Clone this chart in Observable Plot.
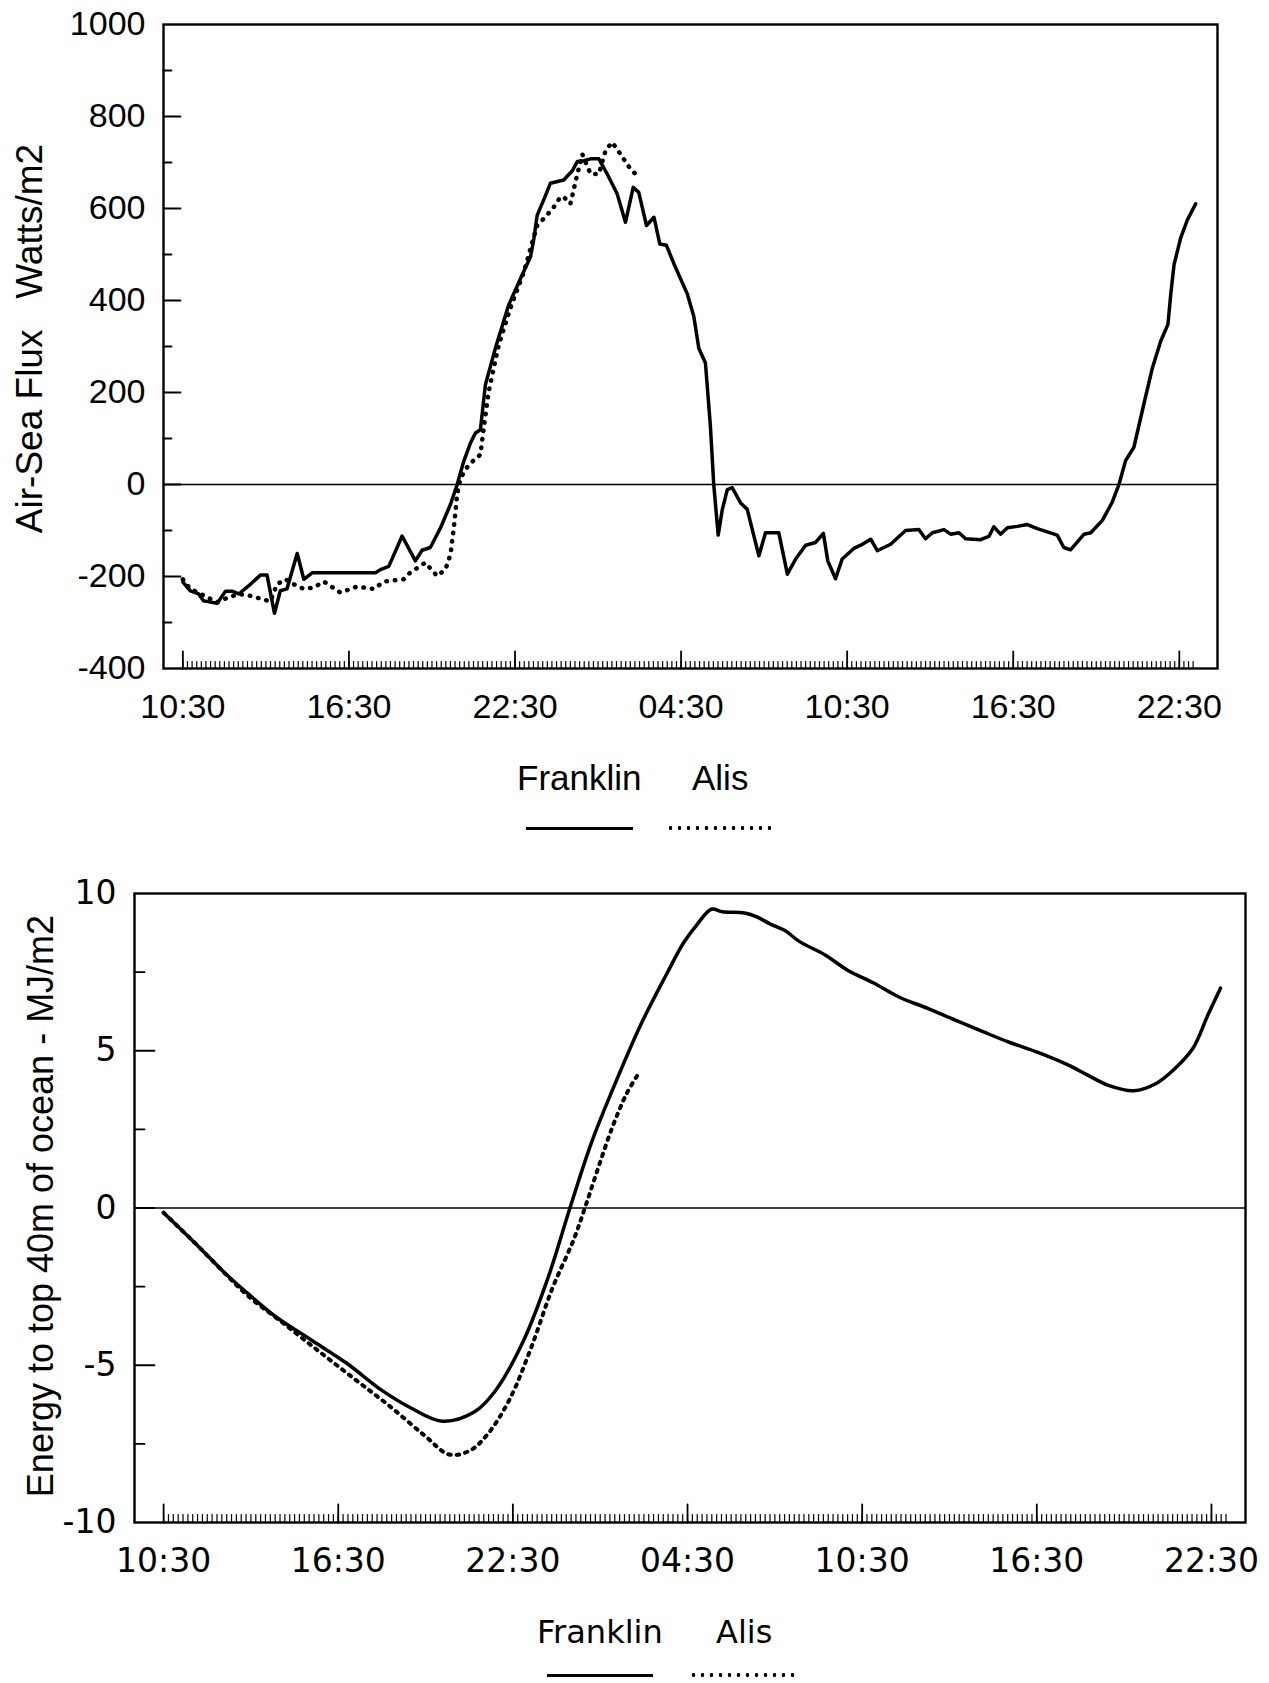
<!DOCTYPE html>
<html>
<head>
<meta charset="utf-8">
<script src="https://cdn.jsdelivr.net/npm/d3@7"></script>
<script src="https://cdn.jsdelivr.net/npm/@observablehq/plot@0.6"></script>
<style>
  html, body { margin: 0; padding: 0; background: #fff; }
  body { width: 1269px; height: 1683px; position: relative; overflow: hidden; }
  .abs { position: absolute; }
  .leg { position: absolute; line-height: 1; color: #000; white-space: nowrap; }
  .solid { position: absolute; height: 0; border-top: 3.5px solid #000; }
  .dotted { position: absolute; height: 4px;
    background-image: radial-gradient(circle, #000 1.7px, transparent 2.1px);
    background-size: 9px 4px; background-repeat: repeat-x; }
</style>
</head>
<body>
<div id="topChart" class="abs" style="left:0;top:0"></div>
<div id="botChart" class="abs" style="left:0;top:860px"></div>

<div class="leg" id="leg1a" style="left:517px;top:758px;font:35px 'Liberation Sans',Arial,sans-serif"></div>
<div class="leg" id="leg1b" style="left:692px;top:758px;font:35px 'Liberation Sans',Arial,sans-serif"></div>
<div class="solid" style="left:526px;top:827px;width:107px"></div>
<div class="dotted" style="left:666px;top:826px;width:106px"></div>

<div class="leg" id="leg2a" style="left:537px;top:1613px;font:32px 'DejaVu Sans',sans-serif"></div>
<div class="leg" id="leg2b" style="left:716px;top:1613px;font:32px 'DejaVu Sans',sans-serif"></div>
<div class="solid" style="left:547px;top:1674px;width:106px"></div>
<div class="dotted" style="left:689px;top:1673px;width:106px"></div>

<script>
// ---------- tick labels / categories ----------
const seriesNames = ["Franklin", "Alis"];
const timeLabels = ["10:30", "16:30", "22:30", "04:30", "10:30", "16:30", "22:30"];
const timeTickHours = [0, 6, 12, 18, 24, 30, 36];   // hours after 10:30 on day 1
const fluxTicks = [-400, -200, 0, 200, 400, 600, 800, 1000];
const fluxMinorTicks = [-300, -100, 100, 300, 500, 700, 900];
const energyTicks = [-10, -5, 0, 5, 10];
const energyMinorTicks = [-7.5, -2.5, 2.5, 7.5];
const fluxLabel = "Air-Sea Flux\u00a0\u00a0\u00a0Watts/m2";
const energyLabel = "Energy to top 40m of ocean - MJ/m2";

// ---------- top panel: air-sea flux (W/m2) ----------
const fluxFranklinHours = [0.0,0.27,0.57,0.75,1.24,1.54,1.78,2.02,2.44,2.8,3.04,3.31,3.52,3.76,4.13,4.37,4.67,6.96,7.14,7.44,7.92,8.4,8.64,8.94,9.31,9.67,9.91,10.15,10.39,10.57,10.75,10.93,11.29,11.77,12.2,12.56,12.68,12.8,13.1,13.28,13.76,14.07,14.25,14.49,14.73,15.03,15.33,15.69,15.99,16.27,16.47,16.75,17.02,17.23,17.47,17.74,18.22,18.46,18.64,18.88,19.06,19.18,19.34,19.49,19.67,19.85,20.15,20.39,20.81,21.05,21.53,21.84,22.14,22.5,22.86,23.14,23.3,23.58,23.82,24.24,24.55,24.85,25.09,25.57,26.11,26.59,26.83,27.08,27.5,27.74,28.04,28.28,28.82,29.12,29.3,29.54,29.79,30.15,30.51,30.87,31.59,31.83,32.07,32.56,32.8,33.22,33.58,33.82,34.06,34.36,34.72,35.03,35.33,35.59,35.69,35.81,36.05,36.29,36.59];
const fluxFranklinValues = [-212,-231,-238,-253,-258,-232,-232,-238,-217,-197,-197,-280,-231,-227,-150,-206,-192,-192,-185,-178,-112,-166,-143,-137,-94,-43,0,51,90,112,119,217,296,390,448,495,534,585,628,655,662,682,702,704,708,708,675,632,570,646,635,563,581,523,520,480,415,365,296,264,126,0,-110,-54,-11,-7,-40,-54,-155,-105,-105,-195,-162,-132,-126,-106,-166,-205,-162,-139,-130,-119,-144,-130,-100,-98,-118,-105,-98,-108,-105,-118,-120,-113,-92,-108,-94,-91,-87,-96,-110,-137,-142,-108,-105,-78,-38,0,52,81,175,254,312,348,413,478,536,575,610];

const fluxAlisHours = [0.0,0.25,0.87,1.24,1.66,2.02,2.44,2.86,3.16,3.4,3.7,4.01,4.37,4.73,5.09,5.69,6.29,6.9,7.26,7.98,8.22,8.76,9.19,9.49,9.67,9.79,9.91,10.03,10.33,10.75,10.87,11.05,11.41,11.83,12.32,12.56,12.8,13.04,13.4,13.64,13.76,14.0,14.18,14.43,14.73,15.03,15.27,15.51,15.81,16.17,16.47];
const fluxAlisValues = [-206,-226,-245,-256,-245,-238,-242,-249,-254,-217,-206,-217,-227,-224,-211,-235,-222,-227,-211,-206,-191,-170,-199,-184,-152,-94,-22,14,43,65,123,202,303,383,462,513,563,578,603,625,625,610,657,718,675,675,726,744,718,686,668];

// ---------- bottom panel: energy to top 40 m of ocean (MJ/m2) ----------
const energyFranklinHours = [0.0,1.04,2.13,2.87,3.84,5.06,6.28,7.5,8.48,9.57,10.67,11.4,12.38,13.23,13.96,14.7,15.43,16.4,17.26,17.87,18.3,18.82,19.2,19.96,20.4,20.84,21.35,21.85,22.74,23.5,24.38,25.26,26.27,27.16,28.17,29.05,30.06,31.07,31.7,32.46,33.34,34.1,34.73,35.36,35.87,36.31];
const energyFranklinValues = [-0.15,-1.08,-2.09,-2.7,-3.45,-4.19,-4.93,-5.8,-6.35,-6.78,-6.49,-5.81,-4.19,-2.16,0,2.08,3.77,5.84,7.4,8.44,8.98,9.5,9.42,9.38,9.25,9.03,8.82,8.47,8.04,7.56,7.16,6.71,6.34,5.99,5.6,5.27,4.94,4.55,4.25,3.9,3.73,3.96,4.42,5.07,6.12,6.99];

const energyAlisHours = [0.0,1.04,2.13,2.87,4.09,5.3,6.52,7.74,8.96,9.82,10.55,11.16,11.89,12.62,13.35,14.09,14.51,14.94,15.43,15.91,16.28];
const energyAlisValues = [-0.15,-1.08,-2.1,-2.77,-3.65,-4.53,-5.41,-6.28,-7.23,-7.84,-7.7,-7.16,-6.08,-4.46,-2.57,-1.0,0.1,1.3,2.6,3.64,4.22];

// ---------- helpers ----------
const rows = (hs, vs) => hs.map((h, i) => ({h, v: vs[i]}));
const minorHours = d3.range(0, 36.5 + 1e-6, 1 / 6);
const tickShape = {draw(context, l) { context.moveTo(0, 0); context.lineTo(0, -l); }};
const labelOf = d => timeLabels[timeTickHours.indexOf(d)];
const plainNum = d => String(d);

document.getElementById("leg1a").textContent = seriesNames[0];
document.getElementById("leg1b").textContent = seriesNames[1];
document.getElementById("leg2a").textContent = seriesNames[0];
document.getElementById("leg2b").textContent = seriesNames[1];

// ---------- top chart ----------
const fluxPlot = Plot.plot({
  width: 1269,
  height: 740,
  marginLeft: 163,
  marginRight: 52,
  marginTop: 24,
  marginBottom: 72,
  style: {fontFamily: "'Liberation Sans', Arial, sans-serif", fontSize: "34px", color: "#000", background: "#fff", overflow: "visible"},
  x: {domain: [-0.7, 37.38], axis: null},
  y: {domain: [-400, 1000], axis: null},
  marks: [
    Plot.frame({stroke: "#000", strokeWidth: 2.4}),
    Plot.ruleY([0], {stroke: "#000", strokeWidth: 1.6}),
    Plot.vector(fluxTicks.slice(1, -1), {y: d => d, frameAnchor: "left", length: 17, rotate: 90, anchor: "start", shape: tickShape, stroke: "#000", strokeWidth: 1.8}),
    Plot.vector(fluxMinorTicks, {y: d => d, frameAnchor: "left", length: 8, rotate: 90, anchor: "start", shape: tickShape, stroke: "#000", strokeWidth: 1.8}),
    Plot.vector(minorHours, {x: d => d, frameAnchor: "bottom", length: 7, anchor: "start", shape: tickShape, stroke: "#000", strokeWidth: 1.2}),
    Plot.vector(timeTickHours, {x: d => d, frameAnchor: "bottom", length: 17, anchor: "start", shape: tickShape, stroke: "#000", strokeWidth: 1.8}),
    Plot.axisY(fluxTicks, {tickSize: 0, tickPadding: 18, label: null, fontSize: 34, tickFormat: plainNum}),
    Plot.axisX(timeTickHours, {tickSize: 0, tickPadding: 25, label: null, fontSize: 34, tickFormat: labelOf}),
    Plot.text([fluxLabel], {text: d => d, frameAnchor: "left", dx: -133, dy: -8, rotate: -90, textAnchor: "middle", lineAnchor: "middle", fontSize: 37}),
    Plot.line(rows(fluxAlisHours, fluxAlisValues), {x: "h", y: "v", stroke: "#000", strokeWidth: 4.5, strokeDasharray: "0.5 8", strokeLinecap: "round"}),
    Plot.line(rows(fluxFranklinHours, fluxFranklinValues), {x: "h", y: "v", stroke: "#000", strokeWidth: 3.5, strokeLinejoin: "round"})
  ]
});
document.getElementById("topChart").append(fluxPlot);

// ---------- bottom chart ----------
const energyPlot = Plot.plot({
  width: 1269,
  height: 722,
  marginLeft: 134,
  marginRight: 24,
  marginTop: 33,
  marginBottom: 60,
  style: {fontFamily: "'DejaVu Sans', sans-serif", fontSize: "33px", color: "#000", background: "#fff", overflow: "visible"},
  x: {domain: [-1.0, 37.17], axis: null},
  y: {domain: [-10, 10], axis: null},
  marks: [
    Plot.frame({stroke: "#000", strokeWidth: 2.4}),
    Plot.ruleY([0], {stroke: "#000", strokeWidth: 1.6}),
    Plot.vector(energyTicks.slice(1, -1), {y: d => d, frameAnchor: "left", length: 20, rotate: 90, anchor: "start", shape: tickShape, stroke: "#000", strokeWidth: 1.8}),
    Plot.vector(energyMinorTicks, {y: d => d, frameAnchor: "left", length: 10, rotate: 90, anchor: "start", shape: tickShape, stroke: "#000", strokeWidth: 1.8}),
    Plot.vector(minorHours, {x: d => d, frameAnchor: "bottom", length: 8, anchor: "start", shape: tickShape, stroke: "#000", strokeWidth: 1.2}),
    Plot.vector(timeTickHours, {x: d => d, frameAnchor: "bottom", length: 18, anchor: "start", shape: tickShape, stroke: "#000", strokeWidth: 1.8}),
    Plot.axisY(energyTicks, {tickSize: 0, tickPadding: 18, label: null, fontSize: 33, tickFormat: plainNum}),
    Plot.axisX(timeTickHours, {tickSize: 0, tickPadding: 26, label: null, fontSize: 33, tickFormat: labelOf}),
    Plot.text([energyLabel], {text: d => d, frameAnchor: "left", dx: -93, dy: -2, rotate: -90, textAnchor: "middle", lineAnchor: "middle", fontSize: 36, fontFamily: "'Liberation Sans', Arial, sans-serif"}),
    Plot.line(rows(energyAlisHours, energyAlisValues), {x: "h", y: "v", curve: "catmull-rom", stroke: "#000", strokeWidth: 4, strokeDasharray: "2.5 6", strokeLinecap: "round"}),
    Plot.line(rows(energyFranklinHours, energyFranklinValues), {x: "h", y: "v", curve: "catmull-rom", stroke: "#000", strokeWidth: 3.5, strokeLinejoin: "round"})
  ]
});
document.getElementById("botChart").append(energyPlot);
</script>
</body>
</html>
